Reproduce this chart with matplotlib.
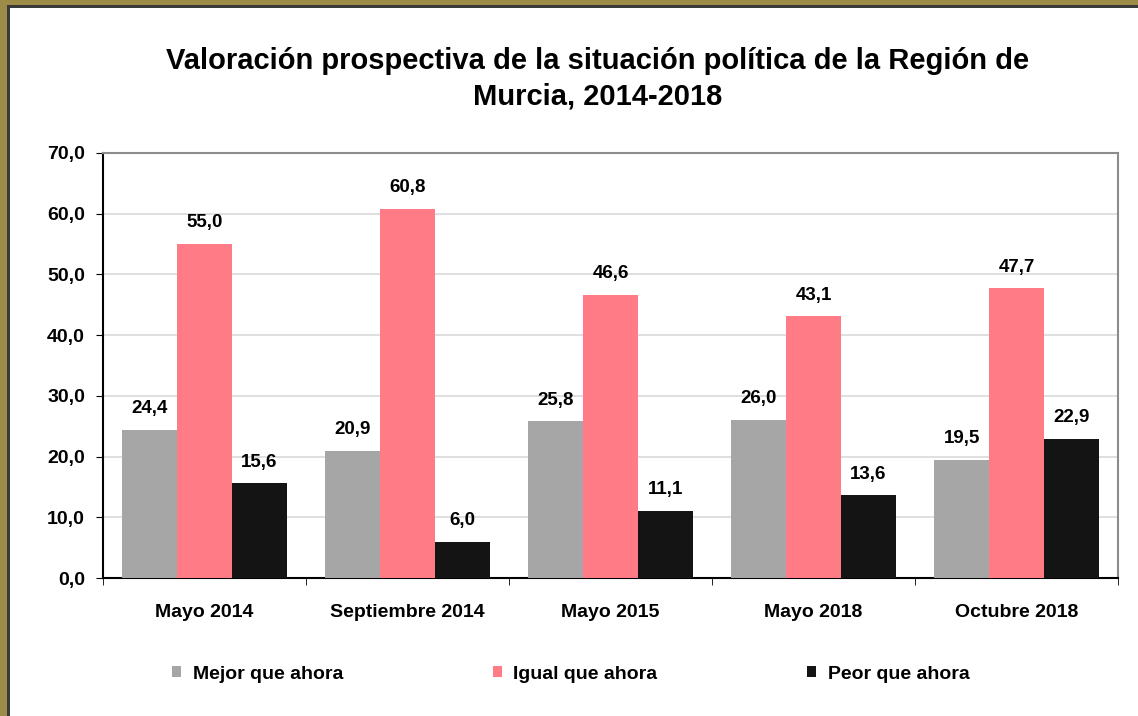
import matplotlib.pyplot as plt
import matplotlib.patches as patches
import numpy as np

categories = ["Mayo 2014", "Septiembre 2014", "Mayo 2015", "Mayo 2018", "Octubre 2018"]
mejor = [24.4, 20.9, 25.8, 26.0, 19.5]
igual = [55.0, 60.8, 46.6, 43.1, 47.7]
peor = [15.6, 6.0, 11.1, 13.6, 22.9]
series_names = ["Mejor que ahora", "Igual que ahora", "Peor que ahora"]
colors = ["#a6a6a6", "#ff7b86", "#141414"]

plt.rcParams['font.family'] = ['Liberation Sans', 'DejaVu Sans']

dpi = 100
fig = plt.figure(figsize=(1138 / dpi, 716 / dpi), dpi=dpi)
fig.patch.set_facecolor("#9c8c48")

# white panel with thin dark edge
fig.patches.append(patches.Rectangle((7 / 1138, 0), 1.0, 1 - 5 / 716, transform=fig.transFigure,
                                     facecolor="#3a3a3a", edgecolor="none", zorder=-2))
fig.patches.append(patches.Rectangle((10 / 1138, 0), 1.0, 1 - 8 / 716, transform=fig.transFigure,
                                     facecolor="white", edgecolor="none", zorder=-1))

ax = fig.add_axes([103 / 1138, 1 - 578 / 716, (1118 - 103) / 1138, (578 - 153) / 716])
ax.set_facecolor("white")

x = np.arange(len(categories))
w = 0.27
for i, (vals, name, c) in enumerate(zip([mejor, igual, peor], series_names, colors)):
    bars = ax.bar(x + (i - 1) * w, vals, w, color=c, label=name, zorder=3)
    for b, v in zip(bars, vals):
        ax.text(b.get_x() + b.get_width() / 2, v + 2.1, f"{v:.1f}".replace(".", ","),
                ha="center", va="bottom", fontsize=13.5, fontweight="bold", zorder=4)

ax.set_xlim(-0.5, len(categories) - 0.5)
ax.set_ylim(0, 70)
ax.set_yticks(np.arange(0, 71, 10))
ax.set_yticklabels([f"{t:.1f}".replace(".", ",") for t in np.arange(0, 71, 10)],
                   fontsize=14, fontweight="bold")
ax.yaxis.grid(True, color="#d9d9d9", linewidth=1.2, zorder=0)
ax.set_axisbelow(True)
ax.set_xticks(x)
ax.set_xticklabels(categories, fontsize=14, fontweight="bold")
ax.tick_params(axis="x", length=0, pad=19)
ax.set_xticks(np.arange(-0.5, len(categories), 1), minor=True)
ax.tick_params(axis="x", which="minor", length=5, direction="out")
ax.tick_params(axis="y", length=5, direction="out", pad=8)

for s in ["left", "bottom"]:
    ax.spines[s].set_color("black")
    ax.spines[s].set_linewidth(1.5)
for s in ["top", "right"]:
    ax.spines[s].set_color("#8c8c8c")
    ax.spines[s].set_linewidth(1.5)

fig.text(0.525, 1 - 79 / 716, "Valoración prospectiva de la situación política de la Región de\nMurcia, 2014-2018",
         ha="center", va="center", fontsize=21, fontweight="bold", linespacing=1.35)

ax.legend(loc="upper center", bbox_to_anchor=(0.461, -0.165), ncol=3, frameon=False,
          prop={"weight": "bold", "size": 14}, handlelength=0.45, handleheight=0.45,
          columnspacing=7.7, handletextpad=0.6)

fig.savefig("out.png", dpi=dpi, facecolor=fig.get_facecolor())
